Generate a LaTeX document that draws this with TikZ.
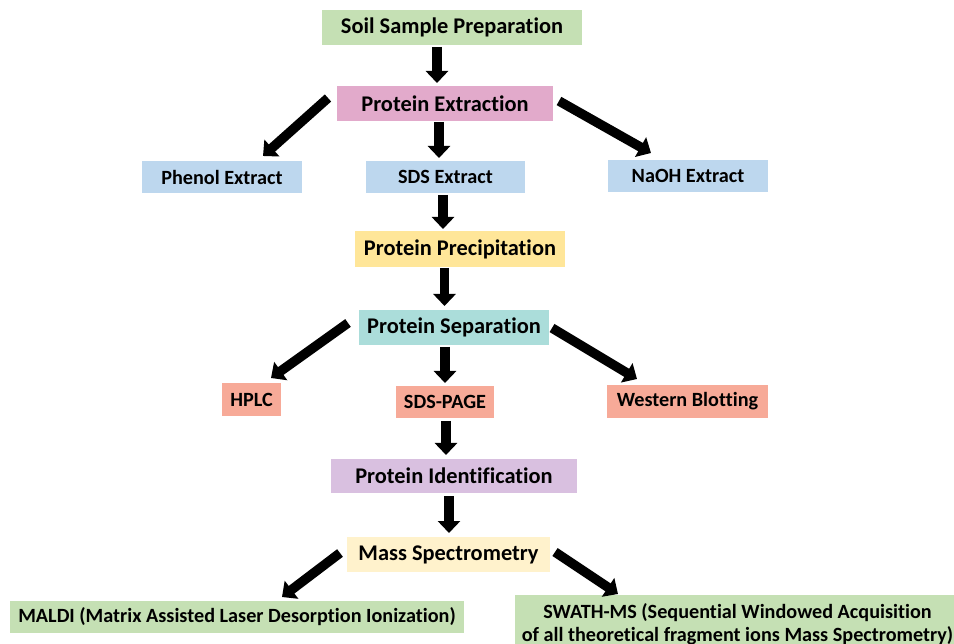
\documentclass[tikz,border=0pt]{standalone}
\usepackage{fontspec}
\setmainfont{Carlito}[Ligatures={NoCommon}]
\usetikzlibrary{arrows.meta,calc}
\definecolor{cgreen}{HTML}{C5E0B4}
\definecolor{cpink}{HTML}{E2AACB}
\definecolor{cblue}{HTML}{BDD7EE}
\definecolor{cyellow}{HTML}{FFE699}
\definecolor{cteal}{HTML}{ABDDDA}
\definecolor{csalmon}{HTML}{F7AA98}
\definecolor{clav}{HTML}{D9C0E0}
\definecolor{ccream}{HTML}{FFF2CC}
\tikzset{
  box/.style={inner sep=0pt, outer sep=0pt, align=center, font=\bfseries\fontsize{22.4}{26}\selectfont},
  subbox/.style={box, font=\bfseries\fontsize{20.2}{24}\selectfont},
  bigarrow/.style={draw=black, line width=9.5pt, -{Triangle[width=22pt,length=12pt]}},
}
\begin{document}
\begin{tikzpicture}[x=1pt,y=-1pt]
\useasboundingbox (0,0) rectangle (954,644);
\node[box, fill=cgreen, minimum width=260pt, minimum height=35pt] (soil) at (452,27.5) {Soil Sample Preparation};
\node[box, fill=cpink, minimum width=216pt, minimum height=35pt] (extr) at (445,103.5) {Protein Extraction};
\node[subbox, fill=cblue, minimum width=160pt, minimum height=32pt] (phenol) at (222,177) {Phenol Extract};
\node[subbox, fill=cblue, minimum width=159pt, minimum height=32pt] (sds) at (445.5,177) {SDS Extract};
\node[subbox, fill=cblue, minimum width=160pt, minimum height=32pt] (naoh) at (688,176) {NaOH Extract};
\node[box, fill=cyellow, minimum width=210pt, minimum height=36pt] (precip) at (460,249) {Protein Precipitation};
\node[box, fill=cteal, minimum width=190pt, minimum height=35pt] (sep) at (454,327.5) {Protein Separation};
\node[subbox, fill=csalmon, minimum width=59pt, minimum height=33pt] (hplc) at (251.5,399.5) {HPLC};
\node[subbox, fill=csalmon, minimum width=98pt, minimum height=32pt] (page) at (445,402) {SDS-PAGE};
\node[subbox, fill=csalmon, minimum width=161pt, minimum height=33pt] (western) at (687.5,401.5) {Western Blotting};
\node[box, fill=clav, minimum width=246pt, minimum height=34pt] (ident) at (454,476) {Protein Identification};
\node[box, fill=ccream, minimum width=203pt, minimum height=35pt] (mass) at (448.5,554.5) {Mass Spectrometry};
\node[subbox, fill=cgreen, minimum width=454pt, minimum height=32pt] (maldi) at (237,617) {MALDI (Matrix Assisted Laser Desorption Ionization)};
\node[subbox, fill=cgreen, minimum width=445pt, minimum height=58.5pt, font=\bfseries\fontsize{20.2}{23}\selectfont] (swath) at (737.5,624.25) {SWATH-MS (Sequential Windowed Acquisition\\of all theoretical fragment ions Mass Spectrometry)};
\draw[bigarrow] ($(soil.south)+(-15,2)$) -- ($(extr.north)+(-8,-3)$);
\draw[bigarrow] ($(extr.west)+(-9,-5.5)$) -- ($(phenol.north)+(41,-5)$);
\draw[bigarrow] ($(extr.south)+(-6,1)$) -- ($(sds.north)+(-6.5,-3)$);
\draw[bigarrow] ($(extr.east)+(6,-2.5)$) -- ($(naoh.north)+(-37,-7)$);
\draw[bigarrow] ($(sds.south)+(-2.5,2)$) -- ($(precip.north)+(-17,-2)$);
\draw[bigarrow] ($(precip.south)+(-15.5,1)$) -- ($(sep.north)+(-9.5,-4)$);
\draw[bigarrow] ($(sep.west)+(-11,-4.5)$) -- ($(hplc.north)+(19.5,-5)$);
\draw[bigarrow] ($(sep.south)+(-9,2)$) -- ($(page.north)+(0,-3)$);
\draw[bigarrow] ($(sep.east)+(3,0.5)$) -- ($(western.north)+(-50.5,-6)$);
\draw[bigarrow] ($(page.south)+(1,3)$) -- ($(ident.north)+(-8,-4)$);
\draw[bigarrow] ($(ident.south)+(-5,3)$) -- ($(mass.north)+(0.5,-4)$);
\draw[bigarrow] ($(mass.west)+(-7,-1.5)$) -- ($(maldi.north)+(45,-4)$);
\draw[bigarrow] ($(mass.east)+(5,-2.5)$) -- ($(swath.north)+(-119.5,-1)$);
\end{tikzpicture}
\end{document}
